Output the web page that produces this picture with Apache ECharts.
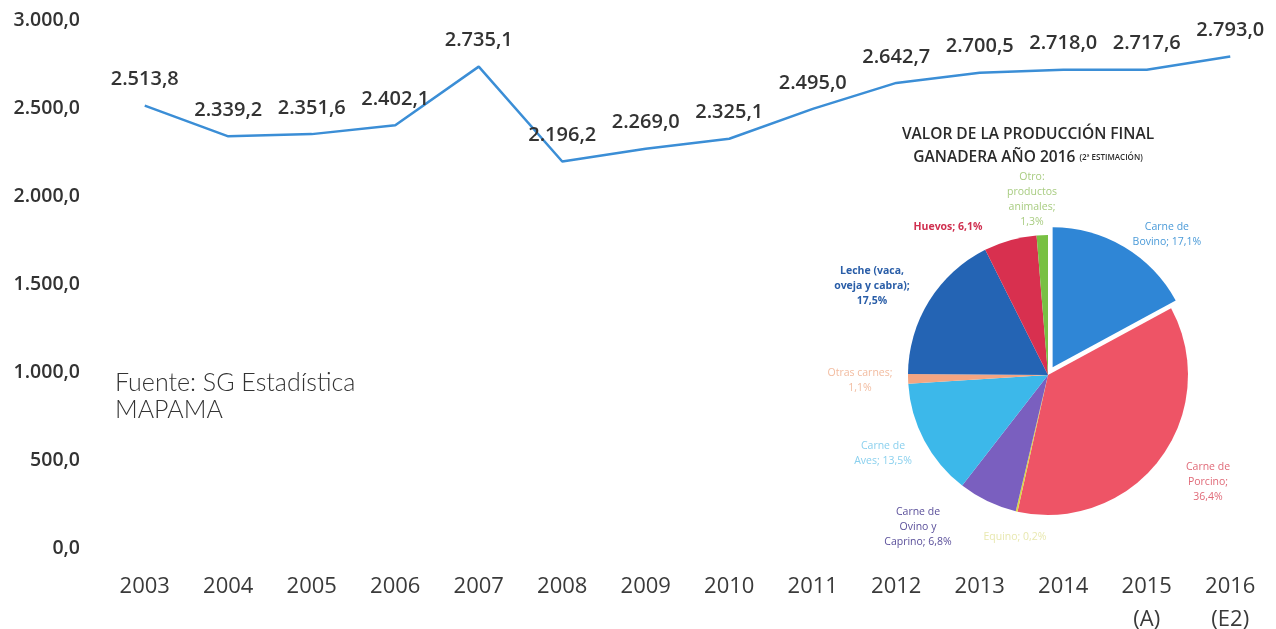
<!DOCTYPE html>
<html><head><meta charset="utf-8">
<script src="https://cdn.jsdelivr.net/npm/echarts@6/dist/echarts.min.js"></script>
<style>html,body{margin:0;padding:0;background:#fff}#c{width:1276px;height:629px}</style>
</head><body><div id="c"></div>
<script>
const years = ['2003','2004','2005','2006','2007','2008','2009','2010','2011','2012','2013','2014','2015\n(A)','2016\n(E2)'];
const values = [2513.8,2339.2,2351.6,2402.1,2735.1,2196.2,2269.0,2325.1,2495.0,2642.7,2700.5,2718.0,2717.6,2793.0];
const yTicks = [0,500,1000,1500,2000,2500,3000];
const pieNames = ['Carne de\nBovino; 17,1%','Carne de\nPorcino;\n36,4%','Equino; 0,2%','Carne de\nOvino y\nCaprino; 6,8%','Carne de\nAves; 13,5%','Otras carnes;\n1,1%','Leche (vaca,\noveja y cabra);\n17,5%','Huevos; 6,1%','Otro:\nproductos\nanimales;\n1,3%'];
const pieValues = [17.1,36.4,0.2,6.8,13.5,1.1,17.5,6.1,1.3];

// styling (not data)
const pieColors = ['#2f86d6','#ee5466','#d8d840','#7a5fbf','#3cb8ea','#f4a582','#2464b4','#d8304f','#78c043'];
const labelColors = ['#4a9ad8','#e06a78','#e8e8b0','#5a4f9a','#8ad0ee','#f2bca0','#2a5ea8','#d03050','#a8cc80'];
const pieLabelPos = [[1150,225],[1208,482],[1015,537],[918,527],[883,454],[860,381],[872,286],[948,227],[1032,200]];

function fmt(v){
  const s = v.toFixed(1).split('.');
  return s[0].replace(/\B(?=(\d{3})+(?!\d))/g,'.') + ',' + s[1];
}

const chart = echarts.init(document.getElementById('c'));
chart.setOption({
  animation:false,
  backgroundColor:'#fff',
  title:{
    text:'VALOR DE LA PRODUCCIÓN FINAL\nGANADERA AÑO 2016 {s|(2ª ESTIMACIÓN)}',
    left:1023, top:118, textAlign:'center',
    textStyle:{fontFamily:'Open Sans',fontSize:15.5,fontWeight:600,color:'#2a2a2a',lineHeight:23,
      rich:{s:{fontSize:8,fontWeight:600,color:'#2a2a2a',fontFamily:'Open Sans'}}}
  },
  graphic:[{type:'text',left:115,top:369,style:{text:'Fuente: SG Estadística\nMAPAMA',font:'300 25px Lato',fill:'#333',lineHeight:27}}],
  grid:{left:103,right:4,top:20,bottom:81,outerBoundsMode:'none',containLabel:false},
  xAxis:{type:'category',data:years,boundaryGap:true,
    axisLine:{show:false},axisTick:{show:false},
    axisLabel:{margin:22,fontFamily:'Open Sans',fontSize:22,color:'#3a3a3a',lineHeight:33,interval:0}},
  yAxis:{type:'value',min:0,max:3000,interval:500,
    splitLine:{show:false},axisLine:{show:false},axisTick:{show:false},
    axisLabel:{margin:23,fontFamily:'Open Sans',fontSize:19.5,fontWeight:600,color:'#333',formatter:v=>fmt(v)}},
  series:[{
    type:'line',data:values,symbol:'circle',symbolSize:0,showSymbol:true,
    lineStyle:{color:'#3b8ed6',width:2.5},
    label:{show:true,position:'top',distance:16,fontFamily:'Open Sans',fontSize:20,fontWeight:600,color:'#333',formatter:p=>fmt(p.value)}
  },{
    type:'pie',center:[1048,375],radius:140,startAngle:90,clockwise:true,
    data:pieNames.map((n,i)=>({name:n,value:pieValues[i],
      selected:i===0,
      itemStyle:{color:pieColors[i]},
      label:{color:labelColors[i],fontWeight:(i===6||i===7)?'bold':'normal'}})),
    selectedMode:'single',selectedOffset:9,
    label:{show:true,position:'outside',formatter:'{b}',fontFamily:'Open Sans',fontSize:10.5,lineHeight:15},
    labelLine:{show:false},
    labelLayout:p=>({x:pieLabelPos[p.dataIndex][0],y:pieLabelPos[p.dataIndex][1],align:'center',verticalAlign:'middle'}),
    emphasis:{disabled:true}
  }]
});
</script></body></html>
